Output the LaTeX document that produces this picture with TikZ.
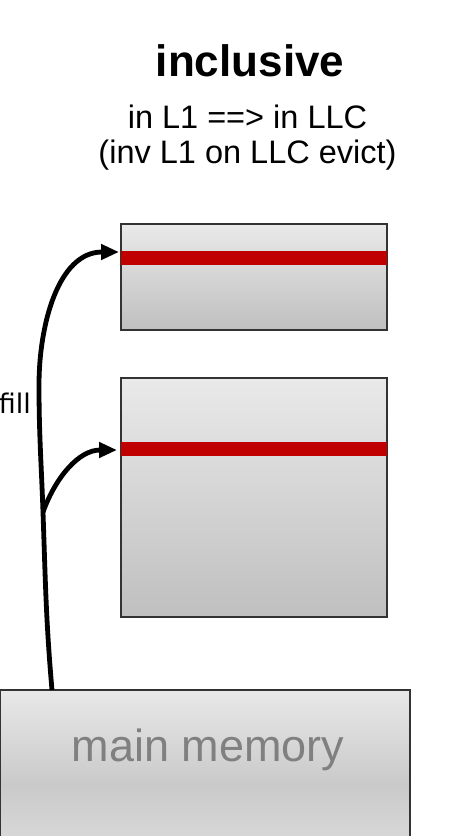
\documentclass[tikz,border=0pt]{standalone}
\usepackage{fontspec}
\usepackage{xcolor}
\usepackage{tikz}
\usetikzlibrary{arrows.meta, positioning, calc}

\setmainfont{Liberation Sans}
\newfontfamily\fillfont{DejaVu Sans}

\definecolor{cachered}{HTML}{C00000}
\definecolor{boxedge}{HTML}{333333}
\definecolor{memgray}{HTML}{808080}

\tikzset{
    cachebox/.style={draw=boxedge, line width=1.5pt, top color=gray!17, bottom color=gray!50, inner sep=0pt, minimum width=266pt},
    tagline/.style={fill=cachered, inner sep=0pt, minimum width=266pt, minimum height=14pt},
    fillpath/.style={line width=4.8pt, -{Triangle[length=18pt, width=15pt]}}
}

\begin{document}
\begin{tikzpicture}[
        x=1pt, y=-1pt
    ]
        \clip (0,0) rectangle (450,836);

        \node[anchor=base, font=\fontsize{44}{48}\selectfont\bfseries] (title) at (250,76) {inclusive};
        \node[anchor=base, font=\fontsize{32.5}{35}\selectfont] (rule1) at (247.5,128) {in L1 ==> in LLC};
        \node[anchor=base, font=\fontsize{32.5}{35}\selectfont] (rule2) at (247.5,163) {(inv L1 on LLC evict)};

        % caches
        \node[cachebox, minimum height=106pt] (l1) at (254,277) {};
        \node[tagline] (l1bar) at (254,257.5) {};
        \node[cachebox, minimum height=239pt] (llc) at (254,497.5) {};
        \node[tagline] (llcbar) at (254,449) {};

        % memory
        \node[draw=boxedge, line width=1.2pt, top color=gray!18, bottom color=gray!22, middle color=gray!42,
              minimum width=410pt, minimum height=190pt, inner sep=0pt] (mem) at (205,785) {};
        \node[anchor=base, text=memgray, font=\fontsize{45}{48}\selectfont] (memlabel) at (208,761) {main memory};

        \coordinate (memtop) at (52,690);
        \coordinate (split) at (43,512);
        \coordinate (bend) at (39,385);
        \coordinate (l1in) at (119,252);
        \coordinate (llcin) at (117,450);

        \draw[fillpath] (memtop) to[out=95,in=-88] (split) to[out=92,in=-90] (bend) to[out=90,in=180] (l1in);
        \draw[fillpath] (split) to[out=70,in=180] (llcin);

        \node[anchor=base east, inner sep=0pt, font=\fillfont\fontsize{27}{29}\selectfont] (filllabel) at (31,413) {fill};

    \end{tikzpicture}
\end{document}
